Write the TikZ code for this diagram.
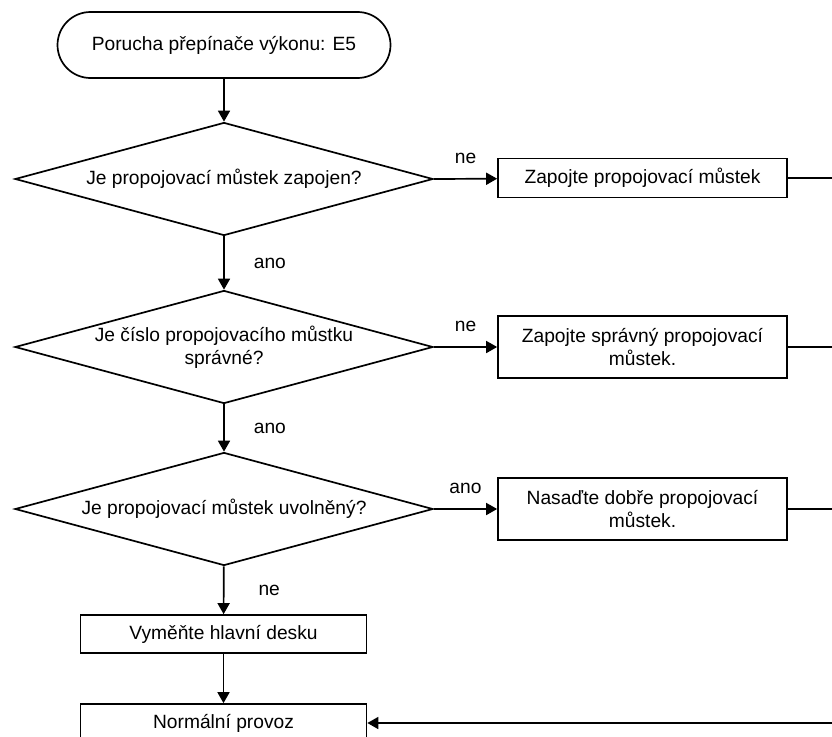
\documentclass[tikz,border=0pt]{standalone}
\usepackage{fontspec}
\setmainfont{Liberation Sans}
\usetikzlibrary{
	arrows.meta,
	shapes.geometric,
	positioning
}

\begin{document}
\begin{tikzpicture}[x=1pt, y=-1pt,
	font=\fontsize{19.2}{22.5}\selectfont,
	line width=1.7pt,
	every node/.style={inner sep=0pt},
	term/.style={draw, rectangle, rounded corners=33pt, minimum width=333pt, minimum height=66pt},
	decision/.style={draw, diamond, shape aspect=3.7, minimum width=418pt, minimum height=113pt, align=center},
	proc/.style={draw, rectangle, minimum width=289pt, align=center},
	arr/.style={-{Triangle[length=11pt, width=12pt]}}
	]
	\clip (0,0) rectangle (832,736);
	
	% start
	\node[term] (start) at (224,45) {Porucha přepínače výkonu: E5};
	
	% questions
	\node[decision] (q1) at (224,179) {Je propojovací můstek zapojen?};
	\node[decision] (q2) at (224,347) {Je číslo propojovacího můstku\\správné?};
	\node[decision] (q3) at (224,509) {Je propojovací můstek uvolněný?};
	
	% actions on the right
	\node[proc, minimum height=39pt] (fix1) at (642.5,178) {Zapojte propojovací můstek};
	\node[proc, minimum height=62pt] (fix2) at (642.5,347) {Zapojte správný propojovací\\můstek.};
	\node[proc, minimum height=62pt] (fix3) at (642.5,509) {Nasaďte dobře propojovací\\můstek.};
	
	% bottom
	\node[proc, minimum width=286pt, minimum height=38pt] (board) at (223.5,634) {Vyměňte hlavní desku};
	\node[proc, minimum width=286pt, minimum height=38pt] (normal) at (223.5,723) {Normální provoz};
	
	% free ends at the right edge
	\coordinate (r1) at (832,178);
	\coordinate (r2) at (832,347);
	\coordinate (r3) at (832,509);
	\coordinate (r4) at (832,723);
	
	% main flow
	\draw[arr] (start) -- (q1);
	\draw[arr] (q1) -- node[right=29pt] {ano} (q2);
	\draw[arr] (q2) -- node[right=29pt] {ano} (q3);
	\draw[arr] (q3) -- node[right=34pt] {ne} (board);
	\draw[arr] (board) -- (normal);
	
	% branches
	\draw[arr] (q1.east) -- node[above=14pt] {ne} (fix1);
	\draw[arr] (q2.east) -- node[above=14pt] {ne} (fix2);
	\draw[arr] (q3.east) -- node[above=14pt] {ano} (fix3);
	\draw (fix1) -- (r1);
	\draw (fix2) -- (r2);
	\draw (fix3) -- (r3);
	\draw[arr] (r4) -- (normal);
\end{tikzpicture}
\end{document}
